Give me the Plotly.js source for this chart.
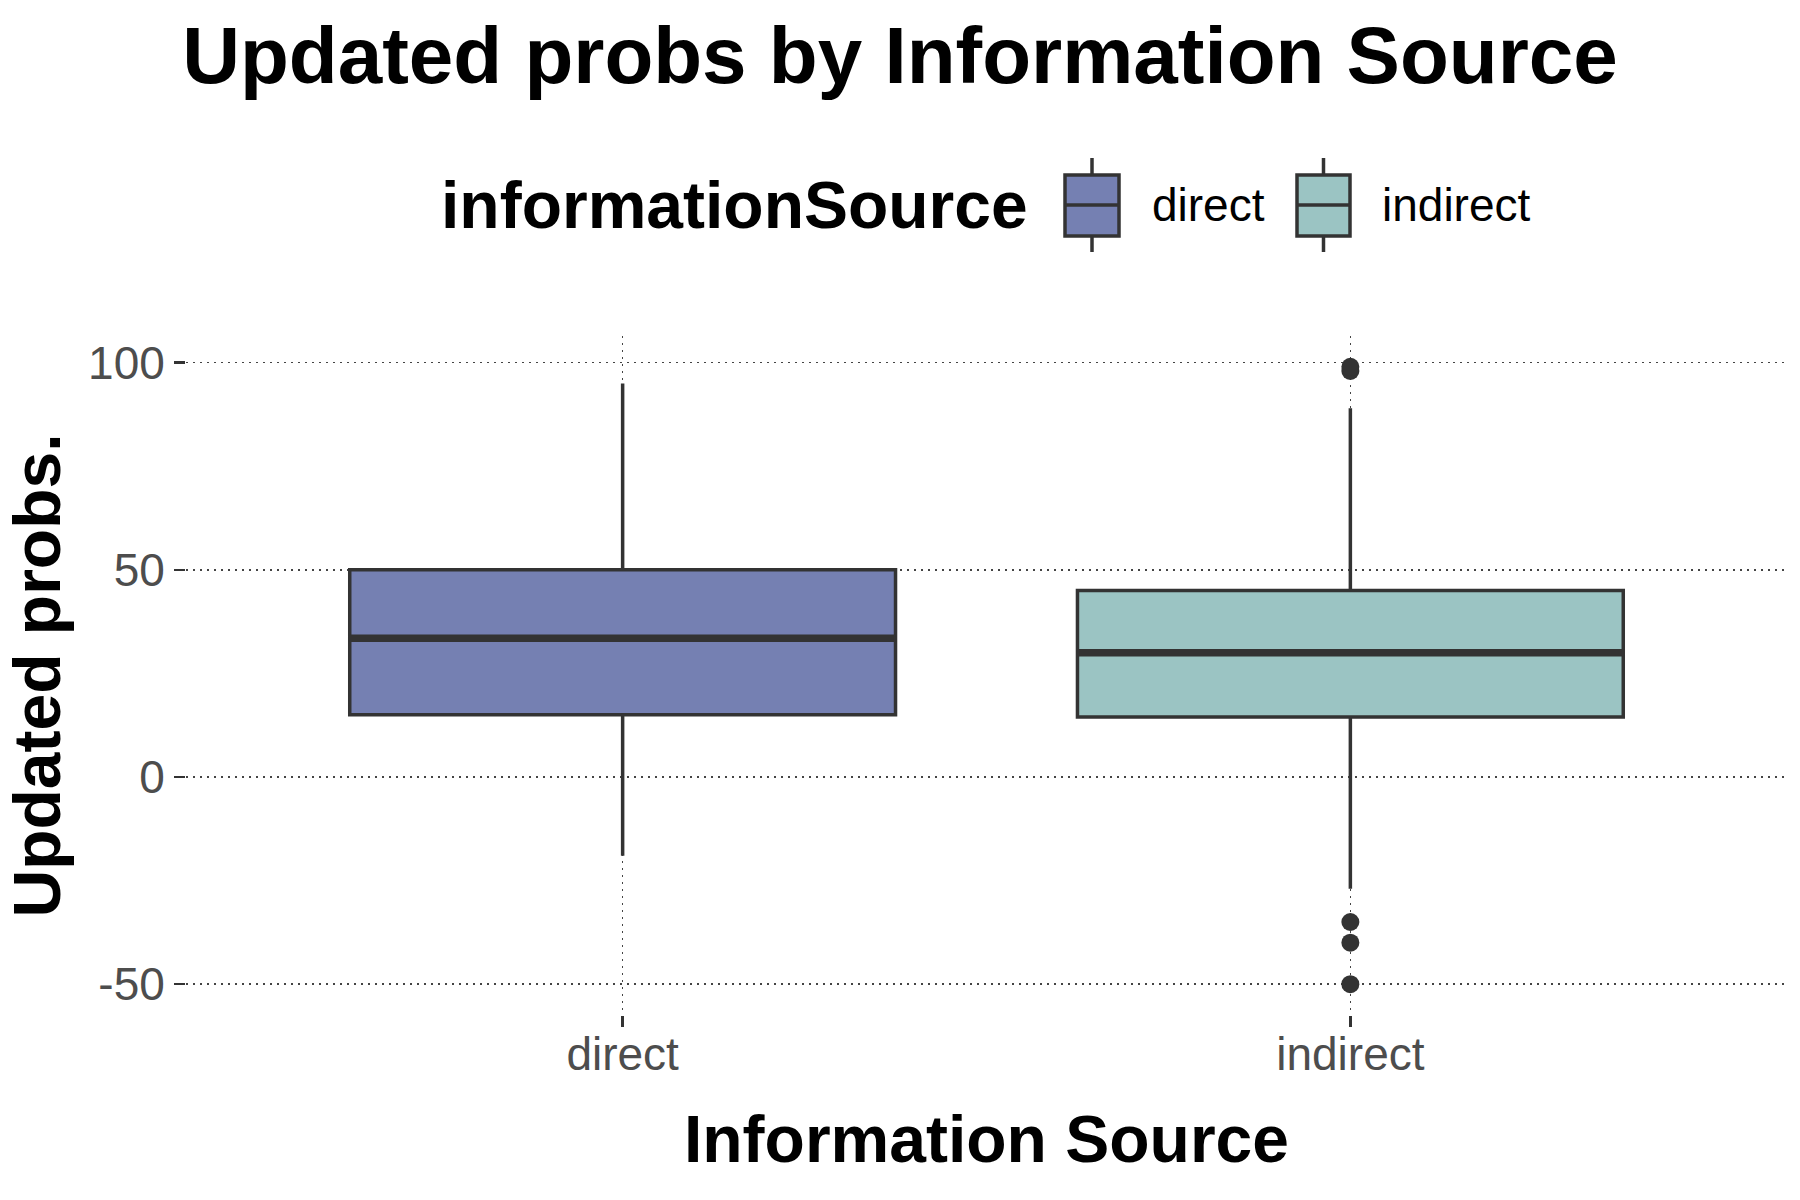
<!DOCTYPE html>
<html>
<head>
<meta charset="utf-8">
<script src="https://cdn.plot.ly/plotly-3.0.1.min.js"></script>
<style>html,body{margin:0;padding:0;background:#fff;}#chart{width:1800px;height:1200px;}</style>
</head>
<body>
<div id="chart"></div>
<script>
// ---- data ----
const categories = ['direct', 'indirect'];
const q1Values = [15, 14.5];
const medianValues = [33.5, 30];
const q3Values = [50, 45];
const lowerWhiskers = [-19, -27];
const upperWhiskers = [95, 89];
const outlierCategories = ['indirect', 'indirect', 'indirect', 'indirect', 'indirect'];
const outlierValues = [98, 99, -35, -40, -50];
const yTickValues = [-50, 0, 50, 100];
const yTickLabels = ['-50', '0', '50', '100'];
const legendTitle = 'informationSource';
const chartTitle = 'Updated probs by Information Source';
const xTitle = 'Information Source';
const yTitle = 'Updated probs.';

// ---- style ----
const fillColors = ['#7580B2', '#9BC4C3'];
const lineColor = '#333333';
const FONT = '"Liberation Sans", Arial, Helvetica, sans-serif';
const W = 1800, H = 1200;
const M = {l: 186, r: 13, t: 336, b: 185};
const boxWidth = 0.75;

const traces = [];
categories.forEach((c, i) => {
  traces.push({
    type: 'box', x: [i], q1: [q1Values[i]], median: [medianValues[i]], q3: [q3Values[i]],
    lowerfence: [lowerWhiskers[i]], upperfence: [upperWhiskers[i]],
    width: boxWidth, whiskerwidth: 0, boxpoints: false,
    fillcolor: fillColors[i], line: {color: lineColor, width: 3.5},
    name: c, showlegend: false, hoverinfo: 'skip'
  });
  traces.push({
    type: 'scatter', mode: 'lines', x: [i - boxWidth / 2, i + boxWidth / 2],
    y: [medianValues[i], medianValues[i]], line: {color: lineColor, width: 7.5},
    showlegend: false, hoverinfo: 'skip'
  });
});
traces.push({
  type: 'scatter', mode: 'markers',
  x: outlierCategories.map(c => categories.indexOf(c)), y: outlierValues,
  marker: {color: lineColor, size: 18}, showlegend: false, hoverinfo: 'skip'
});

// legend drawn in pixel space
const pw = W - M.l - M.r, ph = H - M.t - M.b;
const px = v => (v - M.l) / pw;
const py = v => (H - M.b - v) / ph;
const shapes = [], annotations = [];
const keys = [{x0: 1065, x1: 1119, tx: 1150}, {x0: 1297, x1: 1350, tx: 1380}];
const kTop = 175, kBot = 236, kMid = 205, wTop = 158, wBot = 252;
keys.forEach((k, i) => {
  const cx = (k.x0 + k.x1) / 2;
  const ln = {color: lineColor, width: 3.5};
  shapes.push({type: 'line', xref: 'paper', yref: 'paper', x0: px(cx), x1: px(cx), y0: py(wTop), y1: py(kTop), line: ln});
  shapes.push({type: 'line', xref: 'paper', yref: 'paper', x0: px(cx), x1: px(cx), y0: py(kBot), y1: py(wBot), line: ln});
  shapes.push({type: 'rect', xref: 'paper', yref: 'paper', x0: px(k.x0), x1: px(k.x1), y0: py(kBot), y1: py(kTop), fillcolor: fillColors[i], line: ln});
  shapes.push({type: 'line', xref: 'paper', yref: 'paper', x0: px(k.x0), x1: px(k.x1), y0: py(kMid), y1: py(kMid), line: ln});
  annotations.push({xref: 'paper', yref: 'paper', x: px(k.tx), y: py(kMid), xanchor: 'left', yanchor: 'middle',
    text: categories[i], showarrow: false, font: {family: FONT, size: 46, color: '#000'}});
});
annotations.push({xref: 'paper', yref: 'paper', x: px(1030), y: py(kMid), xanchor: 'right', yanchor: 'middle',
  text: legendTitle, showarrow: false, font: {family: FONT, size: 66, color: '#000', weight: 'bold'}});

const gridDash = '2px,5px';
const layout = {
  width: W, height: H, margin: M,
  paper_bgcolor: '#fff', plot_bgcolor: '#fff',
  font: {family: FONT},
  title: {text: chartTitle, x: 0.5, xref: 'container', xanchor: 'center', y: 1 - 55 / H, yref: 'container', yanchor: 'middle',
    font: {family: FONT, size: 80, color: '#000', weight: 'bold'}},
  xaxis: {
    range: [-0.6, 1.6], tickvals: categories.map((c, i) => i), ticktext: categories,
    showgrid: true, gridcolor: '#444', griddash: gridDash, gridwidth: 1.5, zeroline: false, showline: false,
    ticks: 'outside', ticklen: 11, tickwidth: 2.5, tickcolor: lineColor,
    ticklabelstandoff: -12,
    tickfont: {family: FONT, size: 46, color: '#4d4d4d'},
    title: {text: xTitle, standoff: 36, font: {family: FONT, size: 66, color: '#000', weight: 'bold'}}
  },
  yaxis: {
    range: [-57.45, 106.45], tickvals: yTickValues, ticktext: yTickLabels,
    showgrid: true, gridcolor: '#444', griddash: gridDash, gridwidth: 1.5, zeroline: false, showline: false,
    ticks: 'outside', ticklen: 11, tickwidth: 2.5, tickcolor: lineColor,
    tickfont: {family: FONT, size: 46, color: '#4d4d4d'},
    title: {text: yTitle, standoff: 22, font: {family: FONT, size: 66, color: '#000', weight: 'bold'}}
  },
  shapes: shapes, annotations: annotations, showlegend: false
};
Plotly.newPlot('chart', traces, layout, {staticPlot: true});
</script>
</body>
</html>
